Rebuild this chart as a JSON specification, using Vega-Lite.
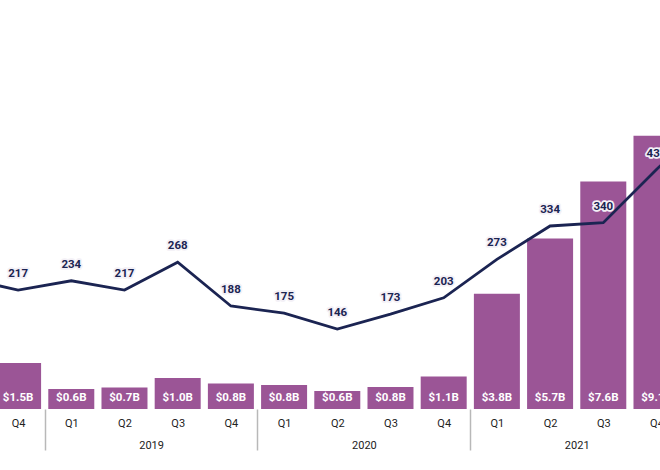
{
  "$schema": "https://vega.github.io/schema/vega-lite/v6.json",
  "width": 660,
  "height": 409,
  "autosize": {"type": "none"},
  "padding": {"left": 0, "top": 0, "right": 0, "bottom": 61},
  "background": "white",
  "config": {"view": {"stroke": null}, "font": "Roboto"},
  "data": {
    "values": [
      {"idx": -1, "quarter": "Q3", "year": "2018", "amount": 1.2, "amountLabel": "", "deals": 239, "dealsLabel": ""},
      {"idx": 0, "quarter": "Q4", "year": "2018", "amount": 1.53, "amountLabel": "$1.5B", "deals": 217, "dealsLabel": "217"},
      {"idx": 1, "quarter": "Q1", "year": "2019", "amount": 0.67, "amountLabel": "$0.6B", "deals": 234, "dealsLabel": "234"},
      {"idx": 2, "quarter": "Q2", "year": "2019", "amount": 0.72, "amountLabel": "$0.7B", "deals": 217, "dealsLabel": "217"},
      {"idx": 3, "quarter": "Q3", "year": "2019", "amount": 1.03, "amountLabel": "$1.0B", "deals": 268, "dealsLabel": "268"},
      {"idx": 4, "quarter": "Q4", "year": "2019", "amount": 0.85, "amountLabel": "$0.8B", "deals": 188, "dealsLabel": "188"},
      {"idx": 5, "quarter": "Q1", "year": "2020", "amount": 0.8, "amountLabel": "$0.8B", "deals": 175, "dealsLabel": "175"},
      {"idx": 6, "quarter": "Q2", "year": "2020", "amount": 0.6, "amountLabel": "$0.6B", "deals": 146, "dealsLabel": "146"},
      {"idx": 7, "quarter": "Q3", "year": "2020", "amount": 0.73, "amountLabel": "$0.8B", "deals": 173, "dealsLabel": "173"},
      {"idx": 8, "quarter": "Q4", "year": "2020", "amount": 1.08, "amountLabel": "$1.1B", "deals": 203, "dealsLabel": "203"},
      {"idx": 9, "quarter": "Q1", "year": "2021", "amount": 3.84, "amountLabel": "$3.8B", "deals": 273, "dealsLabel": "273"},
      {"idx": 10, "quarter": "Q2", "year": "2021", "amount": 5.68, "amountLabel": "$5.7B", "deals": 334, "dealsLabel": "334"},
      {"idx": 11, "quarter": "Q3", "year": "2021", "amount": 7.58, "amountLabel": "$7.6B", "deals": 340, "dealsLabel": "340"},
      {"idx": 12, "quarter": "Q4", "year": "2021", "amount": 9.11, "amountLabel": "$9.1B", "deals": 437, "dealsLabel": "437"},
      {"idx": 13, "quarter": "Q1", "year": "2022", "amount": null, "amountLabel": "", "deals": 530, "dealsLabel": ""}
    ]
  },
  "layer": [
    {
      "layer": [
        {
          "mark": {"type": "bar", "width": 46, "color": "#9b5596", "clip": true},
          "encoding": {
            "x": {"field": "idx", "type": "quantitative",
              "scale": {"domain": [-0.34, 12.066], "nice": false, "zero": false, "padding": 0},
              "axis": {"orient": "bottom", "values": [0,1,2,3,4,5,6,7,8,9,10,11,12],
                "labelExpr": "['Q4','Q1','Q2','Q3'][datum.value % 4]",
                "ticks": false, "domain": false, "grid": false, "title": null,
                "labelPadding": 8, "labelFontSize": 11, "labelColor": "#222222", "labelFont": "Roboto",
                "labelOverlap": false, "labelBound": false, "labelFlush": false}},
            "y": {"field": "amount", "type": "quantitative", "scale": {"domain": [0, 13.633], "nice": false}, "axis": null}
          }
        },
        {
          "mark": {"type": "text", "color": "white", "fontWeight": "bold", "fontSize": 11.5, "dy": -11, "baseline": "middle", "font": "Roboto"},
          "encoding": {
            "x": {"field": "idx", "type": "quantitative",
              "scale": {"domain": [-0.34, 12.066], "nice": false, "zero": false, "padding": 0},
              "axis": {"orient": "bottom", "values": [0,1,2,3,4,5,6,7,8,9,10,11,12],
                "labelExpr": "['Q4','Q1','Q2','Q3'][datum.value % 4]",
                "ticks": false, "domain": false, "grid": false, "title": null,
                "labelPadding": 8, "labelFontSize": 11, "labelColor": "#222222", "labelFont": "Roboto",
                "labelOverlap": false, "labelBound": false, "labelFlush": false}},
            "y": {"datum": 0, "type": "quantitative", "scale": {"domain": [0, 13.633], "nice": false}, "axis": null},
            "text": {"field": "amountLabel"}
          }
        }
      ]
    },
    {
      "layer": [
        {
          "mark": {"type": "line", "color": "#1b2452", "strokeWidth": 2.8, "strokeJoin": "miter", "clip": true},
          "encoding": {
            "x": {"field": "idx", "type": "quantitative",
              "scale": {"domain": [-0.34, 12.066], "nice": false, "zero": false, "padding": 0},
              "axis": {"orient": "bottom", "values": [2.5, 6.5, 10.5],
                "labelExpr": "datum.value < 4 ? '2019' : (datum.value < 8 ? '2020' : '2021')",
                "tickOffset": -106.4, "labelOffset": 106.4, "tickSize": 41, "tickColor": "#b8b8b8", "tickWidth": 1.5,
                "domain": false, "grid": false, "title": null,
                "labelPadding": -11, "labelFontSize": 11, "labelColor": "#222222", "labelFont": "Roboto",
                "labelOverlap": false, "labelBound": false, "labelFlush": false}},
            "y": {"field": "deals", "type": "quantitative", "scale": {"domain": [0, 746.4], "nice": false}, "axis": null}
          }
        },
        {
          "mark": {"type": "text", "color": "#1b2452", "stroke": "#f3f0f6", "strokeWidth": 3.5, "strokeJoin": "round", "fontWeight": "bold", "fontSize": 11.5, "dy": -16, "baseline": "middle", "font": "Roboto"},
          "encoding": {
            "x": {"field": "idx", "type": "quantitative"},
            "y": {"field": "deals", "type": "quantitative"},
            "text": {"field": "dealsLabel"}
          }
        },
        {
          "mark": {"type": "text", "color": "#1b2452", "fontWeight": "bold", "fontSize": 11.5, "dy": -16, "baseline": "middle", "font": "Roboto"},
          "encoding": {
            "x": {"field": "idx", "type": "quantitative"},
            "y": {"field": "deals", "type": "quantitative"},
            "text": {"field": "dealsLabel"}
          }
        }
      ]
    }
  ],
  "resolve": {"scale": {"y": "independent"}, "axis": {"x": "independent"}}
}
